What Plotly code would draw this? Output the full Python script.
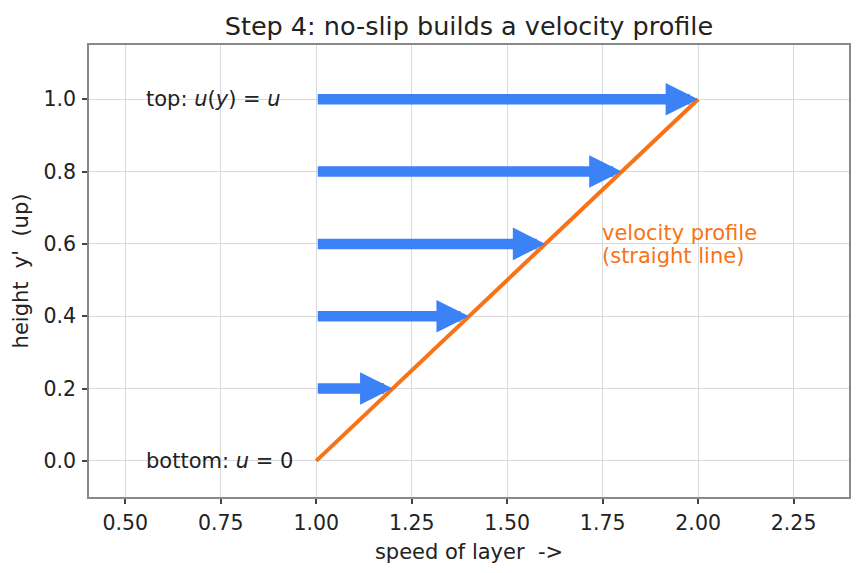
import plotly.graph_objects as go

# ---- data ----
heights = [0.2, 0.4, 0.6, 0.8, 1.0]
layer_speeds = [1.2, 1.4, 1.6, 1.8, 2.0]
base_speed = 1.0
profile_x = [1.0, 2.0]
profile_y = [0.0, 1.0]
x_ticks = [0.5, 0.75, 1.0, 1.25, 1.5, 1.75, 2.0, 2.25]
x_tick_labels = ["0.50", "0.75", "1.00", "1.25", "1.50", "1.75", "2.00", "2.25"]
y_ticks = [0.0, 0.2, 0.4, 0.6, 0.8, 1.0]
y_tick_labels = ["0.0", "0.2", "0.4", "0.6", "0.8", "1.0"]

BLUE = "#3b82f6"
ORANGE = "#f97316"
TEXT = "#222222"
FONT = "DejaVu Sans"

fig = go.Figure()
fig.add_trace(go.Scatter(x=profile_x, y=profile_y, mode="lines",
                         line=dict(color=ORANGE, width=4), showlegend=False,
                         hoverinfo="skip"))

annotations = []
for h, s in zip(heights, layer_speeds):
    annotations.append(dict(
        x=s, y=h, ax=base_speed, ay=h, xref="x", yref="y", axref="x", ayref="y",
        text="", showarrow=True, arrowhead=2, arrowsize=0.62, arrowwidth=10.5,
        arrowcolor=BLUE, standoff=0))

annotations += [
    dict(x=0.55, y=1.0, xref="x", yref="y", text="top: <i>u</i>(<i>y</i>) = <i>u</i>",
         showarrow=False, xanchor="left", yanchor="middle",
         font=dict(family=FONT, size=21, color=TEXT)),
    dict(x=0.55, y=0.0, xref="x", yref="y", text="bottom: <i>u</i> = 0",
         showarrow=False, xanchor="left", yanchor="middle",
         font=dict(family=FONT, size=21, color=TEXT)),
    dict(x=1.75, y=0.630, xref="x", yref="y", text="velocity profile", xshift=-3,
         showarrow=False, xanchor="left", yanchor="middle", align="left",
         font=dict(family=FONT, size=21, color=ORANGE)),
    dict(x=1.75, y=0.566, xref="x", yref="y", text="(straight line)", xshift=-3,
         showarrow=False, xanchor="left", yanchor="middle", align="left",
         font=dict(family=FONT, size=21, color=ORANGE)),
]

axis_common = dict(showgrid=True, gridcolor="#d6d9dd", gridwidth=1,
                   showline=True, linecolor="#888888", linewidth=1.5, mirror=True,
                   ticks="outside", ticklen=5, tickwidth=1.5, tickcolor="#444444",
                   zeroline=False, ticklabelstandoff=2,
                   tickfont=dict(family=FONT, size=20.5, color=TEXT))

fig.update_layout(
    width=862, height=573,
    margin=dict(l=89, r=13, t=45, b=76),
    paper_bgcolor="white", plot_bgcolor="white",
    title=dict(text="Step 4: no-slip builds a velocity profile", x=0.544, xanchor="center",
               y=0.955, yanchor="middle",
               font=dict(family=FONT, size=25.5, color=TEXT)),
    xaxis=dict(range=[0.405, 2.395], tickvals=x_ticks, ticktext=x_tick_labels,
               title=dict(text="speed of layer\u00a0\u00a0->", standoff=10,
                          font=dict(family=FONT, size=21, color=TEXT)),
               **axis_common),
    yaxis=dict(range=[-0.1, 1.15], tickvals=y_ticks, ticktext=y_tick_labels,
               title=dict(text="height\u00a0\u00a0y'\u00a0\u00a0(up)", standoff=9,
                          font=dict(family=FONT, size=21, color=TEXT)),
               **axis_common),
    annotations=annotations,
)

fig.write_html("out.html")
